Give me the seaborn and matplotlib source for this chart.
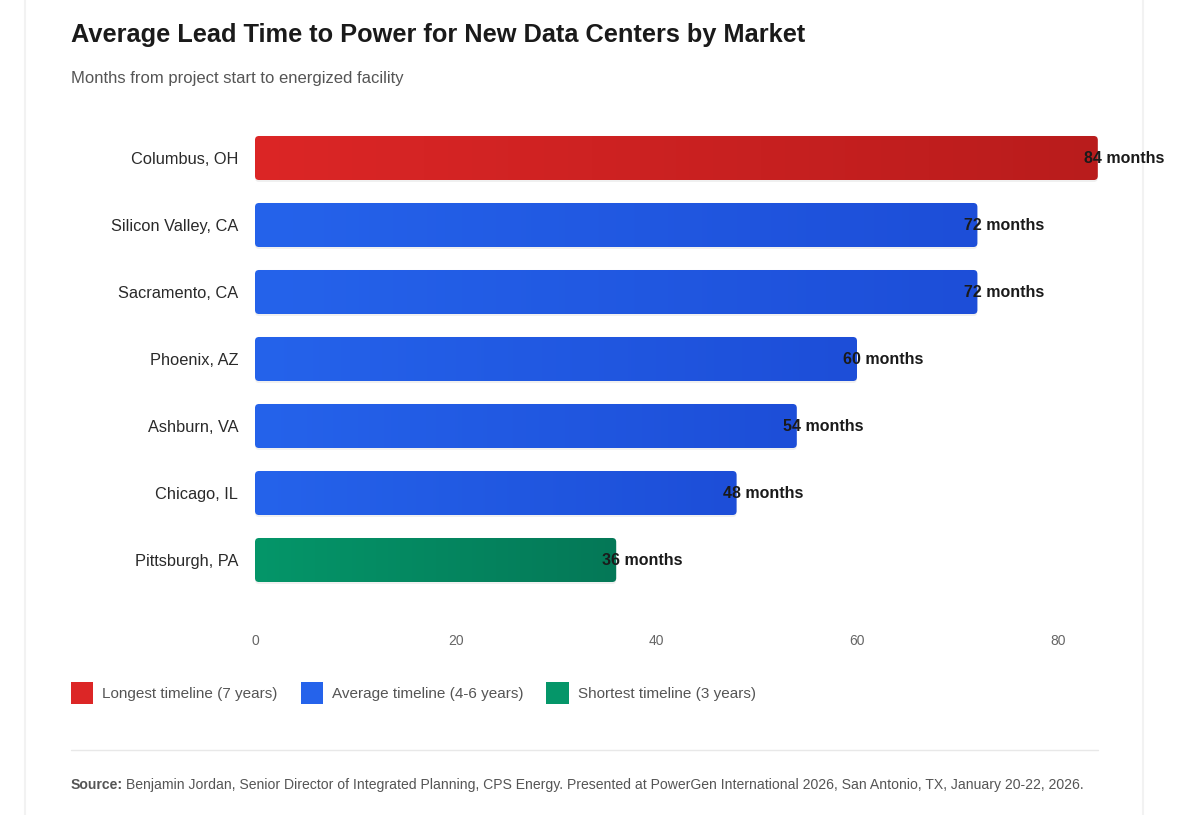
import numpy as np
import pandas as pd
import seaborn as sns
import matplotlib.pyplot as plt
from matplotlib.patches import FancyBboxPatch
from matplotlib.colors import LinearSegmentedColormap
from matplotlib.lines import Line2D

# data
markets = ["Columbus, OH", "Silicon Valley, CA", "Sacramento, CA", "Phoenix, AZ",
           "Ashburn, VA", "Chicago, IL", "Pittsburgh, PA"]
months = [84, 72, 72, 60, 54, 48, 36]
groups = ["Longest", "Average", "Average", "Average", "Average", "Average", "Shortest"]
legend_labels = ["Longest timeline (7 years)", "Average timeline (4-6 years)",
                 "Shortest timeline (3 years)"]
x_ticks = [0, 20, 40, 60, 80]

# gradient (light -> dark) for each group
grad = {
    "Longest": ("#dc2626", "#b91c1c"),
    "Average": ("#2563eb", "#1d4ed8"),
    "Shortest": ("#059669", "#047857"),
}

df = pd.DataFrame({"market": markets, "months": months, "group": groups})

sns.set_theme(style="white")
plt.rcParams["font.family"] = ["Liberation Sans", "DejaVu Sans"]

fig = plt.figure(figsize=(12, 8.15), dpi=100)
ax = fig.add_axes([255 / 1200, 1 - 593.5 / 815, 903 / 1200, 469 / 815])
ax.set_facecolor("none")

sns.barplot(data=df, x="months", y="market", hue="group", dodge=False,
            palette={k: v[0] for k, v in grad.items()}, width=0.657,
            legend=False, ax=ax)

ax.set_xlim(0, 90)
ax.set_ylim(6.5, -0.5)

# swap the plain bars for rounded gradient bars
gx = np.linspace(0, 1, 1024).reshape(1, -1)
for patch in list(ax.patches):
    x0, y0 = patch.get_x(), patch.get_y()
    w, h = patch.get_width(), patch.get_height()
    if w <= 0 or np.isnan(w):
        patch.remove()
        continue
    g = groups[int(round(y0 + h / 2))]
    patch.set_visible(False)
    # soft shadow
    sh = FancyBboxPatch((x0, y0 + 0.03), w, h, boxstyle="round,pad=0,rounding_size=0.4",
                        mutation_aspect=0.15, fc="#000000", ec="none", alpha=0.06,
                        zorder=1.5)
    ax.add_patch(sh)
    rb = FancyBboxPatch((x0, y0), w, h, boxstyle="round,pad=0,rounding_size=0.4",
                        mutation_aspect=0.15, fc="none", ec="none", zorder=2)
    ax.add_patch(rb)
    cmap = LinearSegmentedColormap.from_list(g, list(grad[g]), N=1024)
    im = ax.imshow(gx, extent=[x0, x0 + w, y0 + h, y0], aspect="auto", cmap=cmap,
                   zorder=2, interpolation="bilinear")
    im.set_clip_path(rb)

ax.set_xlim(0, 90)
ax.set_ylim(6.5, -0.5)

# value labels
for i, v in enumerate(months):
    ax.annotate(f"{v} months", xy=(v, i), xytext=(-10, -0.5), textcoords="offset points",
                ha="left", va="center", fontsize=11.5, fontweight="bold",
                color="#1a1a1a", zorder=5, annotation_clip=False)

ax.set_xticks(x_ticks)
ax.set_xlabel("")
ax.set_ylabel("")
ax.tick_params(axis="x", length=0, pad=29, labelsize=10, labelcolor="#666666")
ax.tick_params(axis="y", length=0, pad=12, labelsize=11.8, labelcolor="#2a2a2a")
sns.despine(ax=ax, left=True, bottom=True)
ax.grid(False)

# titles
fig.text(71 / 1200, 1 - 35 / 815, "Average Lead Time to Power for New Data Centers by Market",
         fontsize=18.3, fontweight="bold", color="#1a1a1a", va="center", ha="left")
fig.text(71 / 1200, 1 - 79 / 815, "Months from project start to energized facility",
         fontsize=12, color="#555555", va="center", ha="left")

# legend
handles = [FancyBboxPatch((0, 0), 1, 1, boxstyle="round,pad=0,rounding_size=0.15",
                          facecolor=grad[k][0], edgecolor="none")
           for k in ["Longest", "Average", "Shortest"]]
fig.legend(handles, legend_labels, loc="center left", ncol=3, frameon=False,
           bbox_to_anchor=(71 / 1200, 1 - 693 / 815), borderaxespad=0, borderpad=0,
           fontsize=11, labelcolor="#555555", handlelength=1.45, handleheight=1.8,
           handletextpad=0.6, columnspacing=1.5)

# separator and source
fig.add_artist(Line2D([71 / 1200, 1098 / 1200], [1 - 750 / 815, 1 - 750 / 815],
                      color="#e8e8e8", lw=1))
src = fig.text(71 / 1200, 1 - 785 / 815, "Source:", fontsize=10.1, fontweight="bold",
               color="#555555", va="center", ha="left")
fig.canvas.draw()
bb = src.get_window_extent()
fig.text((bb.x1 + 3) / 1200, 1 - 785 / 815,
         "Benjamin Jordan, Senior Director of Integrated Planning, CPS Energy. "
         "Presented at PowerGen International 2026, San Antonio, TX, January 20-22, 2026.",
         fontsize=10.1, color="#555555", va="center", ha="left")

# faint card edges, kept behind everything
for xe in [25, 1143]:
    fig.add_artist(Line2D([xe / 1200, xe / 1200], [0, 1], color="#f2f2f2", lw=1.5,
                          zorder=-5))

fig.savefig("out.png", dpi=100)
